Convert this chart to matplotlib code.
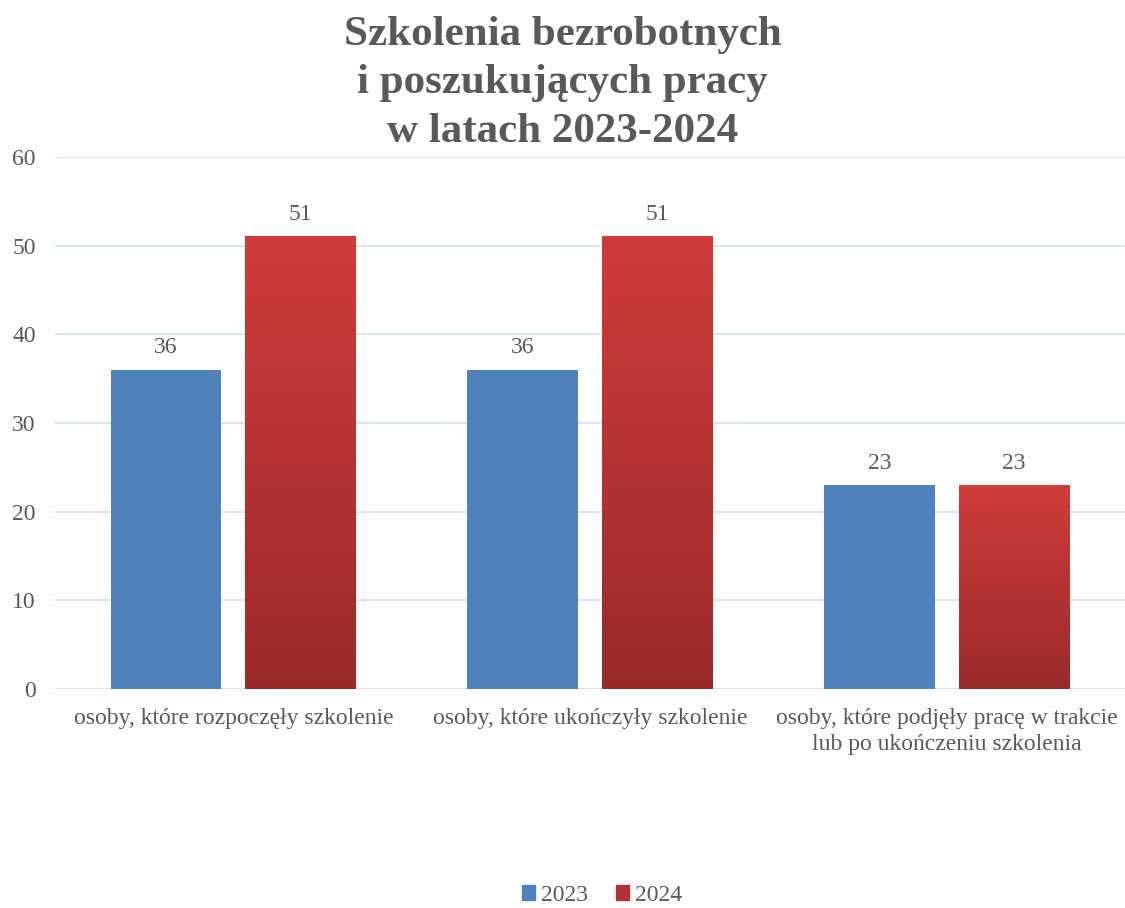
import numpy as np
import matplotlib.pyplot as plt
from matplotlib.colors import LinearSegmentedColormap
from matplotlib.patches import Patch

plt.rcParams['font.family'] = ['Liberation Serif', 'DejaVu Serif']

# data
categories = ["osoby, które rozpoczęły szkolenie",
              "osoby, które ukończyły szkolenie",
              "osoby, które podjęły pracę w trakcie\nlub po ukończeniu szkolenia"]
years = ["2023", "2024"]
vals_2023 = [36, 36, 23]
vals_2024 = [51, 51, 23]

text_col = "#595959"
blue = "#4F81BD"
red_cmap = LinearSegmentedColormap.from_list("redgrad", ["#9A2A2A", "#CF3C39"])
fs = 17

fig = plt.figure(figsize=(11.25, 9.08), dpi=100)
ax = fig.add_axes([0.049, 0.2412, 0.951, 0.5859])

x = np.arange(len(categories))
w = 0.311
off = 0.189

ax.bar(x - off, vals_2023, w, color=blue, zorder=3)

# red bars with vertical gradient
grad = np.linspace(0, 1, 256).reshape(-1, 1)
for xi, v in zip(x + off, vals_2024):
    ax.imshow(grad, extent=[xi - w / 2, xi + w / 2, 0, v], origin='lower',
              aspect='auto', cmap=red_cmap, zorder=3)

for xi, v in zip(x - off, vals_2023):
    ax.text(xi, v + 1.3, str(v), ha='center', va='bottom', fontsize=fs, color=text_col)
for xi, v in zip(x + off, vals_2024):
    ax.text(xi, v + 1.3, str(v), ha='center', va='bottom', fontsize=fs, color=text_col)

ax.set_xlim(-0.5, 2.5)
ax.set_ylim(0, 60)
ax.set_yticks(range(0, 61, 10))
ax.yaxis.grid(True, color="#D6E0F0", linewidth=1.3, zorder=0)
ax.set_axisbelow(True)
for s in ax.spines.values():
    s.set_visible(False)
ax.tick_params(axis='both', length=0, labelsize=fs, colors=text_col)
ax.tick_params(axis='y', pad=14)
ax.tick_params(axis='x', pad=14)
ax.set_xticks(x)
ax.set_xticklabels(categories, linespacing=1.3)

fig.suptitle("Szkolenia bezrobotnych\ni poszukujących pracy\nw latach 2023-2024",
             fontsize=31, fontweight='bold', color=text_col, y=0.982, linespacing=1.35)

handles = [Patch(color=blue), Patch(color="#B53232")]
fig.legend(handles, years, loc='lower center', bbox_to_anchor=(0.535, -0.021), ncol=2,
           frameon=False, fontsize=fs, handlelength=0.55, handleheight=0.55,
           handletextpad=0.25, columnspacing=1.2, labelcolor=text_col)

fig.savefig("out.png", dpi=100)
